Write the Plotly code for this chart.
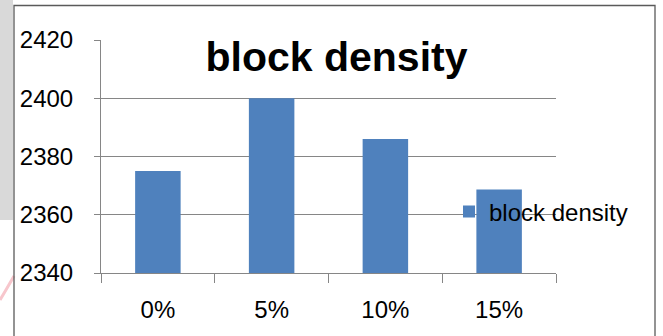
import plotly.graph_objects as go

categories = ["0%", "5%", "10%", "15%"]
density = [2375, 2400, 2386, 2368.7]
y_ticks = [2340, 2360, 2380, 2400, 2420]
series_name = "block density"
title_text = "block density"

W, H = 663, 336
L, R, T, B = 101, 107, 40, 63
pw, ph = W - L - R, H - T - B

def px_x(x):
    return (x - L) / pw

def px_y(y):
    return (H - B - y) / ph

FONT = "Liberation Sans"
GRID = "#868686"

fig = go.Figure()
fig.add_trace(go.Bar(
    x=categories, y=density, name=series_name,
    marker=dict(color="#4F81BD", line=dict(width=0)),
    showlegend=True,
))

fig.update_layout(
    width=W, height=H,
    margin=dict(l=L, r=R, t=T, b=B, pad=0),
    paper_bgcolor="white", plot_bgcolor="white",
    bargap=0.6,
    font=dict(family=FONT, size=24, color="black"),
    title=dict(text="<b>" + title_text + "</b>", x=336.5 / W, xanchor="center",
               y=1 - 57 / H, yanchor="middle", yref="container",
               font=dict(family=FONT, size=41, color="black")),
    showlegend=True,
    legend=dict(x=px_x(449), xanchor="left", y=px_y(212), yanchor="middle",
                bgcolor="rgba(0,0,0,0)", borderwidth=0,
                font=dict(family=FONT, size=24, color="black"),
                itemwidth=30),
    xaxis=dict(type="category", showgrid=False, showline=True, linecolor=GRID, linewidth=1,
               ticks="outside", ticklen=9, tickcolor=GRID, tickson="boundaries",
               tickfont=dict(family=FONT, size=24), ticklabelstandoff=15),
    yaxis=dict(range=[2340, 2420], tickvals=y_ticks, showgrid=True, gridcolor=GRID, gridwidth=1,
               showline=True, linecolor=GRID, linewidth=1, zeroline=False,
               ticks="outside", ticklen=6, tickcolor=GRID,
               tickfont=dict(family=FONT, size=24), ticklabelstandoff=16),
    shapes=[
        dict(type="rect", xref="paper", yref="paper",
             x0=px_x(0), x1=px_x(13), y0=px_y(220), y1=px_y(0),
             fillcolor="#d9d9d9", line=dict(width=0), layer="below"),
        dict(type="path", xref="paper", yref="paper",
             path=f"M {px_x(0)},{px_y(300)} Q {px_x(6)},{px_y(290)} {px_x(14)},{px_y(276)}",
             line=dict(color="#f7c6cc", width=3), layer="below"),
        dict(type="rect", xref="paper", yref="paper",
             x0=px_x(14), x1=px_x(655), y0=px_y(345), y1=px_y(5.5),
             fillcolor="rgba(0,0,0,0)", line=dict(color="#5a5a5a", width=1.3), layer="above"),
    ],
)

fig.write_html("out.html")
